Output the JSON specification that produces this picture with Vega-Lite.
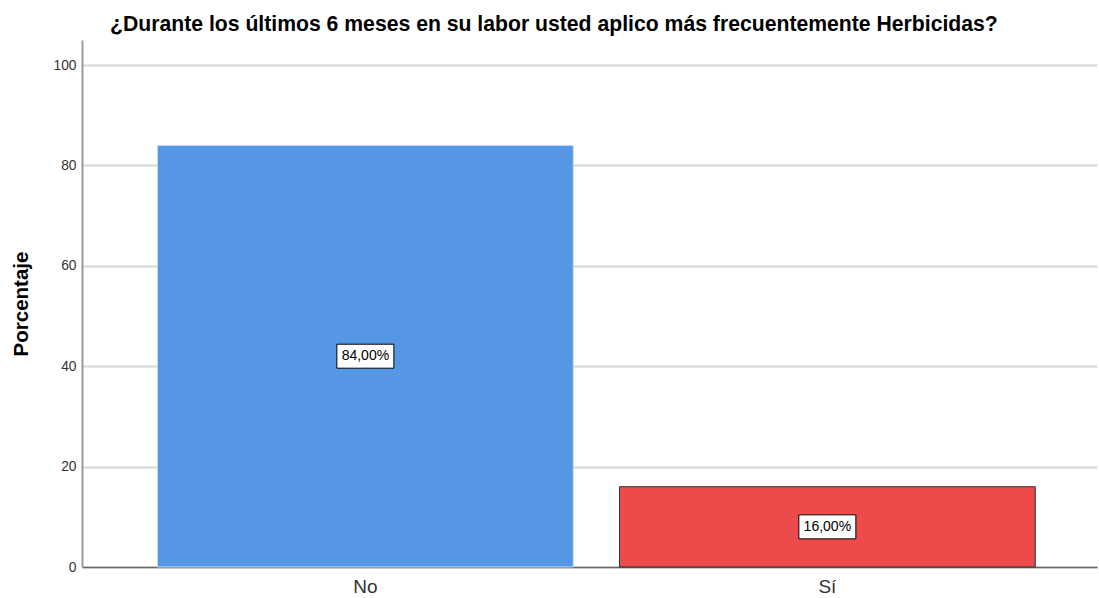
{
  "$schema": "https://vega.github.io/schema/vega-lite/v6.json",
  "autosize": "none",
  "width": 1015,
  "height": 527,
  "padding": {"left": 82, "top": 40, "right": 2, "bottom": 31},
  "background": "white",
  "title": {
    "text": "¿Durante los últimos 6 meses en su labor usted aplico más frecuentemente Herbicidas?",
    "anchor": "start",
    "frame": "group",
    "dx": 28,
    "offset": 5,
    "font": "Liberation Sans",
    "fontSize": 21.2,
    "fontWeight": "bold",
    "color": "#000000"
  },
  "data": {
    "values": [
      {"respuesta": "No", "porcentaje": 84, "mitad": 42, "etiqueta": "84,00%"},
      {"respuesta": "Sí", "porcentaje": 16, "mitad": 8, "etiqueta": "16,00%"}
    ]
  },
  "config": {
    "view": {"stroke": null},
    "font": "Liberation Sans"
  },
  "encoding": {
    "x": {
      "field": "respuesta",
      "type": "nominal",
      "sort": ["No", "Sí"],
      "scale": {"paddingInner": 0.1, "paddingOuter": 0.1485, "align": 0.55},
      "axis": {
        "title": null,
        "labelAngle": 0,
        "labelFontSize": 19,
        "labelColor": "#333333",
        "labelPadding": 10,
        "ticks": false,
        "domainColor": "#666666",
        "domainWidth": 1.5
      }
    }
  },
  "layer": [
    {
      "mark": {"type": "bar", "strokeWidth": 1},
      "encoding": {
        "y": {
          "field": "porcentaje",
          "type": "quantitative",
          "scale": {"domain": [0, 105], "nice": false},
          "axis": {
            "title": "Porcentaje",
            "titleFontSize": 20.5,
            "titleFontWeight": "bold",
            "titleColor": "#000000",
            "titlePadding": 21,
            "values": [0, 20, 40, 60, 80, 100],
            "labelFontSize": 13.8,
            "labelColor": "#333333",
            "labelPadding": 6,
            "ticks": false,
            "domainColor": "#999999",
            "domainWidth": 2,
            "gridColor": "#d6d6d6",
            "gridWidth": 2
          }
        },
        "color": {
          "field": "respuesta",
          "type": "nominal",
          "scale": {"domain": ["No", "Sí"], "range": ["#5596e5", "#ed4a4c"]},
          "legend": null
        },
        "stroke": {
          "field": "respuesta",
          "type": "nominal",
          "scale": {"domain": ["No", "Sí"], "range": ["#c6dbf5", "#333333"]},
          "legend": null
        }
      }
    },
    {
      "mark": {"type": "bar", "width": 57, "fill": "white", "stroke": "#000000", "strokeWidth": 1, "yOffset": -12, "y2Offset": 12},
      "encoding": {
        "y": {"field": "mitad", "type": "quantitative"},
        "y2": {"field": "mitad"}
      }
    },
    {
      "mark": {"type": "text", "fontSize": 14, "color": "#000000", "baseline": "middle", "align": "center"},
      "encoding": {
        "y": {"field": "mitad", "type": "quantitative"},
        "text": {"field": "etiqueta"}
      }
    }
  ]
}
